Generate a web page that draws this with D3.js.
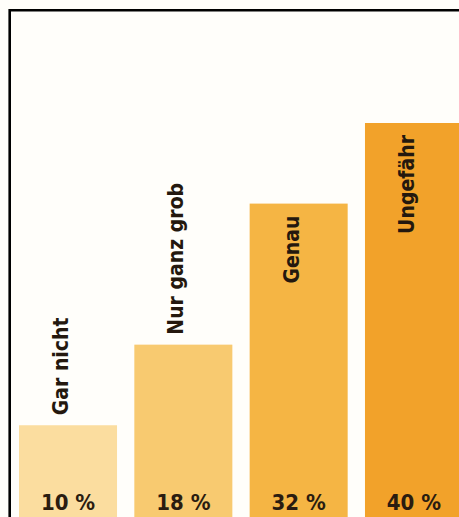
<!DOCTYPE html>
<html>
<head>
<meta charset="utf-8">
<script src="https://cdn.jsdelivr.net/npm/d3@7"></script>
<style>
    html, body { margin: 0; padding: 0; background: #fff; overflow: hidden; }
    svg { display: block; }
</style>
</head>
<body>
<div id="chart-container"></div>
<script>
// Wie genau ... ? (Anteile in Prozent)
const categories = ['Gar nicht', 'Nur ganz grob', 'Genau', 'Ungefähr'];
const values = [10, 18, 32, 40];
const valueLabels = ['10 %', '18 %', '32 %', '40 %'];
const barColors = ['#fbdd9f', '#f8ca70', '#f5b544', '#f2a22a'];

const width = 459;
const height = 517;

const svg = d3.select('#chart-container')
    .append('svg')
    .attr('width', width)
    .attr('height', height);

svg.append('rect')
    .attr('width', width)
    .attr('height', height)
    .attr('fill', '#fffefa');

// bars run off the bottom and right edge of the cutout
const x = d3.scaleBand()
    .domain(categories)
    .range([19, 463])
    .paddingInner(0.15)
    .paddingOuter(0);

const y = d3.scaleLinear()
    .domain([0, 40])
    .range([526, 123]);

const g = svg.append('g');

g.selectAll('rect.bar')
    .data(categories)
    .enter()
    .append('rect')
    .attr('class', 'bar')
    .attr('x', d => x(d))
    .attr('y', (d, i) => y(values[i]))
    .attr('width', x.bandwidth())
    .attr('height', (d, i) => y(0) - y(values[i]))
    .attr('fill', (d, i) => barColors[i]);

const font = '"DejaVu Sans Condensed", "Liberation Sans Narrow", sans-serif';

// category names, rotated; above short bars, inside tall bars
g.selectAll('text.cat')
    .data(categories)
    .enter()
    .append('text')
    .attr('class', 'cat')
    .attr('transform', (d, i) => {
        const inside = values[i] > 25;
        const yy = inside ? y(values[i]) + 12 : y(values[i]) - 10;
        return `translate(${x(d) + x.bandwidth() / 2},${yy}) rotate(-90)`;
    })
    .attr('text-anchor', (d, i) => values[i] > 25 ? 'end' : 'start')
    .style('font-family', font)
    .style('font-weight', 'bold')
    .style('font-size', '21px')
    .style('fill', '#24180e')
    .text(d => d);

// percentages at the foot of each bar
g.selectAll('text.val')
    .data(categories)
    .enter()
    .append('text')
    .attr('class', 'val')
    .attr('x', d => x(d) + x.bandwidth() / 2)
    .attr('y', 510)
    .attr('text-anchor', 'middle')
    .style('font-family', font)
    .style('font-weight', 'bold')
    .style('font-size', '22px')
    .style('fill', '#2a1c10')
    .text((d, i) => valueLabels[i]);

// black frame, left and top edges only visible
svg.append('path')
    .attr('d', `M9.7,${height} V10.2 H${width}`)
    .attr('fill', 'none')
    .attr('stroke', '#000')
    .attr('stroke-width', 2.6);
</script>
</body>
</html>
